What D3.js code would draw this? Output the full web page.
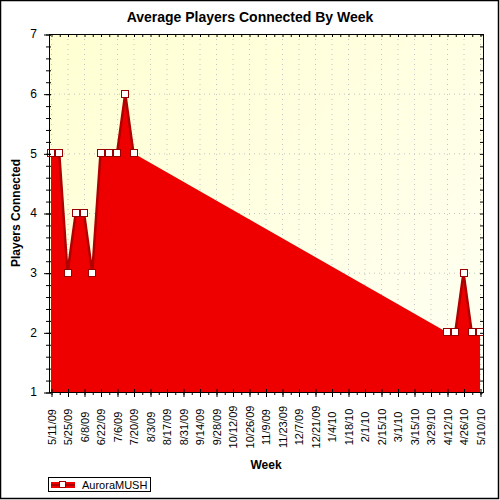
<!DOCTYPE html>
<html>
<head>
<meta charset="utf-8">
<script src="https://cdn.jsdelivr.net/npm/d3@7"></script>
<style>
  body { margin: 0; background: #fff; }
  svg { display: block; font-family: Arial, "Liberation Sans", sans-serif; }
</style>
</head>
<body>
<svg id="chart"></svg>
<script>
// tick labels along the x axis (every 2 weeks)
const weekLabels = ["5/11/09", "5/25/09", "6/8/09", "6/22/09", "7/6/09", "7/20/09", "8/3/09",
    "8/17/09", "8/31/09", "9/14/09", "9/28/09", "10/12/09", "10/26/09", "11/9/09", "11/23/09",
    "12/7/09", "12/21/09", "1/4/10", "1/18/10", "2/1/10", "2/15/10", "3/1/10", "3/15/10",
    "3/29/10", "4/12/10", "4/26/10", "5/10/10"];

// weeks with data and the average players for each
const weeks = ["5/11/09", "5/18/09", "5/25/09", "6/1/09", "6/8/09", "6/15/09", "6/22/09",
    "6/29/09", "7/6/09", "7/13/09", "7/20/09", "4/12/10", "4/19/10", "4/26/10", "5/3/10", "5/10/10"];
const players = [5, 5, 3, 4, 4, 3, 5, 5, 5, 6, 5, 2, 2, 3, 2, 2];

const seriesName = "AuroraMUSH";
const yTicks = [1, 2, 3, 4, 5, 6, 7];

const width = 500, height = 500;
const plot = { left: 49, right: 483, top: 34, bottom: 392 };

const parse = d3.utcParse("%m/%d/%y");
const data = weeks.map((w, i) => ({ date: parse(w), value: players[i] }));
const labelDates = weekLabels.map(parse);

const svg = d3.select("#chart")
    .attr("width", width)
    .attr("height", height);

// background gradient for plot area
const defs = svg.append("defs");
const grad = defs.append("linearGradient")
    .attr("id", "bg")
    .attr("x1", "0").attr("y1", "0").attr("x2", "1").attr("y2", "1");
grad.append("stop").attr("offset", "0%").attr("stop-color", "#ffffd2");
grad.append("stop").attr("offset", "100%").attr("stop-color", "#fffff4");

// Scales
const x = d3.scaleUtc()
    .domain([labelDates[0], labelDates[labelDates.length - 1]])
    .range([51, 480]);

const y = d3.scaleLinear()
    .domain([1, 7])
    .range([plot.bottom, plot.top]);

svg.append("rect")
    .attr("x", plot.left)
    .attr("y", plot.top)
    .attr("width", plot.right - plot.left)
    .attr("height", plot.bottom - plot.top)
    .attr("fill", "url(#bg)");

// dotted grid
const grid = svg.append("g").attr("stroke", "#c4c4c4").attr("stroke-dasharray", "1,4");
grid.selectAll(".vgrid")
    .data(labelDates)
    .join("line")
    .attr("x1", d => x(d) + 0.5).attr("x2", d => x(d) + 0.5)
    .attr("y1", plot.top).attr("y2", plot.bottom);
grid.selectAll(".hgrid")
    .data(yTicks.slice(1, -1))
    .join("line")
    .attr("x1", plot.left).attr("x2", plot.right)
    .attr("y1", d => y(d) + 0.5).attr("y2", d => y(d) + 0.5);

// Area (gaps get bridged by straight line)
const area = d3.area()
    .x(d => x(d.date))
    .y0(y(1))
    .y1(d => y(d.value));

svg.append("path")
    .datum(data)
    .attr("fill", "#ee0000")
    .attr("d", area);

// line only between consecutive weeks
const allWeeks = d3.utcMonday.range(labelDates[0], d3.utcDay.offset(labelDates[labelDates.length - 1], 1));
const byTime = new Map(data.map(d => [+d.date, d.value]));
const fullSeries = allWeeks.map(d => ({ date: d, value: byTime.has(+d) ? byTime.get(+d) : null }));

const line = d3.line()
    .defined(d => d.value !== null)
    .x(d => x(d.date))
    .y(d => y(d.value));

svg.append("path")
    .datum(fullSeries)
    .attr("fill", "none")
    .attr("stroke", "#b00000")
    .attr("stroke-width", 2.5)
    .attr("stroke-linejoin", "round")
    .attr("d", line);

// markers
svg.selectAll(".marker")
    .data(data)
    .join("rect")
    .attr("class", "marker")
    .attr("x", d => Math.round(x(d.date)) - 3.5)
    .attr("y", d => Math.round(y(d.value)) - 3.5)
    .attr("width", 7)
    .attr("height", 7)
    .attr("fill", "#fff")
    .attr("stroke", "#990000")
    .attr("stroke-width", 1);

// Axes
function clean(g) {
    g.select(".domain").remove();
    g.selectAll("text").remove();
}

// bottom weekly minor ticks
svg.append("g")
    .attr("transform", `translate(0.5, ${plot.bottom})`)
    .call(d3.axisBottom(x).tickValues(allWeeks).tickSize(3))
    .call(clean);
// bottom major ticks crossing the axis
svg.append("g")
    .attr("transform", `translate(0.5, ${plot.bottom})`)
    .call(d3.axisBottom(x).tickValues(labelDates).tickSize(5))
    .call(clean);
svg.append("g")
    .attr("transform", `translate(0.5, ${plot.bottom})`)
    .call(d3.axisTop(x).tickValues(labelDates).tickSize(3))
    .call(clean);
// top weekly ticks pointing inward
svg.append("g")
    .attr("transform", `translate(0.5, ${plot.top})`)
    .call(d3.axisBottom(x).tickValues(allWeeks).tickSize(3))
    .call(clean);

// left minor ticks
const minor = y.ticks(30);
svg.append("g")
    .attr("transform", `translate(${plot.left + 2}, 0.5)`)
    .call(d3.axisLeft(y).tickValues(minor).tickSize(5))
    .call(clean);
svg.append("g")
    .attr("transform", `translate(${plot.left + 2}, 0.5)`)
    .call(d3.axisLeft(y).tickValues(yTicks).tickSize(7))
    .call(clean);
// right ticks pointing inward
svg.append("g")
    .attr("transform", `translate(${plot.right}, 0.5)`)
    .call(d3.axisLeft(y).tickValues(minor).tickSize(3))
    .call(clean);

// frame
svg.append("rect")
    .attr("x", plot.left + 0.5)
    .attr("y", plot.top + 0.5)
    .attr("width", plot.right - plot.left)
    .attr("height", plot.bottom - plot.top)
    .attr("fill", "none")
    .attr("stroke", "#000")
    .attr("stroke-width", 1);

// y tick labels
svg.selectAll(".ylabel")
    .data(yTicks)
    .join("text")
    .attr("x", 37)
    .attr("y", d => y(d))
    .attr("dy", "0.36em")
    .attr("text-anchor", "end")
    .attr("font-size", 12)
    .attr("fill", "#000")
    .text(d => d);

// x tick labels, rotated
svg.selectAll(".xlabel")
    .data(labelDates)
    .join("text")
    .attr("transform", (d, i) => `translate(${x(d) + 4.5}, 427) rotate(-90)`)
    .attr("text-anchor", "middle")
    .attr("font-size", 11)
    .attr("fill", "#000")
    .text((d, i) => weekLabels[i]);

// titles
svg.append("text")
    .attr("x", 250)
    .attr("y", 22)
    .attr("text-anchor", "middle")
    .attr("font-size", 14)
    .attr("font-weight", "bold")
    .text("Average Players Connected By Week");

svg.append("text")
    .attr("x", (plot.left + plot.right) / 2)
    .attr("y", 469)
    .attr("text-anchor", "middle")
    .attr("font-size", 12)
    .attr("font-weight", "bold")
    .text("Week");

svg.append("text")
    .attr("transform", `translate(19.5, ${(plot.top + plot.bottom) / 2}) rotate(-90)`)
    .attr("text-anchor", "middle")
    .attr("font-size", 12)
    .attr("font-weight", "bold")
    .text("Players Connected");

// legend
const legend = svg.append("g");
legend.append("rect")
    .attr("x", 48.5).attr("y", 477.5)
    .attr("width", 102).attr("height", 14)
    .attr("fill", "#fff").attr("stroke", "#000");
legend.append("rect")
    .attr("x", 51).attr("y", 482)
    .attr("width", 24).attr("height", 6)
    .attr("fill", "#ee0000");
legend.append("line")
    .attr("x1", 51).attr("x2", 75)
    .attr("y1", 485).attr("y2", 485)
    .attr("stroke", "#b00000").attr("stroke-width", 2);
legend.append("rect")
    .attr("x", 59.5).attr("y", 481.5)
    .attr("width", 6).attr("height", 6)
    .attr("fill", "#fff").attr("stroke", "#990000");
legend.append("text")
    .attr("x", 82)
    .attr("y", 489)
    .attr("font-size", 11)
    .text(seriesName);

// outer border
svg.append("rect")
    .attr("x", 0.5).attr("y", 0.5)
    .attr("width", 498).attr("height", 498)
    .attr("fill", "none")
    .attr("stroke", "#000")
    .attr("stroke-width", 1.5);
</script>
</body>
</html>
